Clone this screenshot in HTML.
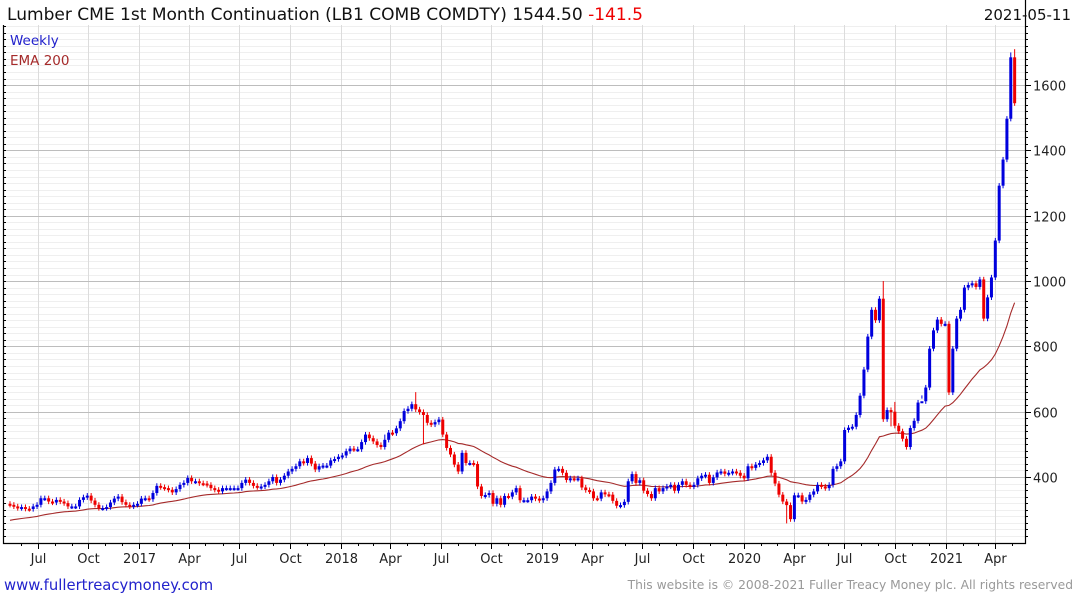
<!DOCTYPE html>
<html><head><meta charset="utf-8">
<style>
html,body{margin:0;padding:0;background:#fff;width:1075px;height:600px;overflow:hidden;font-family:"DejaVu Sans","Liberation Sans",sans-serif;}
svg{position:absolute;left:0;top:0;font-family:"DejaVu Sans","Liberation Sans",sans-serif;}
</style></head>
<body>
<svg id="chart" width="1075" height="600" xmlns="http://www.w3.org/2000/svg">
<text x="7" y="20" font-size="16.8" textLength="636" lengthAdjust="spacingAndGlyphs" fill="#111">Lumber CME 1st Month Continuation (LB1 COMB COMDTY) 1544.50 <tspan fill="#e00">-141.5</tspan></text>
<text x="1071" y="20" font-size="15" fill="#111" text-anchor="end">2021-05-11</text>
<text x="1073" y="589" font-size="12.3" fill="#999" text-anchor="end">This website is © 2008-2021 Fuller Treacy Money plc. All rights reserved</text>
<text x="4" y="590" font-size="14.8" fill="#22c">www.fullertreacymoney.com</text>
</svg>
<script>
const closes=[315,310,305,308,303,302,310,315,335,335,325,322,330,325,320,310,310,310,330,338,343,328,315,305,305,308,322,334,340,323,315,310,315,318,334,335,332,351,373,369,366,361,353,363,376,382,397,387,387,381,380,376,366,361,356,366,366,366,366,366,382,392,382,373,369,371,376,387,400,382,392,404,417,425,433,448,443,458,441,423,433,435,435,451,455,462,466,479,487,485,485,507,530,519,509,498,492,514,536,534,549,571,602,609,623,607,599,590,566,561,568,576,530,489,469,438,417,
474,443,443,440,371,342,345,351,318,335,315,342,340,353,366,329,329,329,340,334,329,335,356,382,423,425,413,391,396,394,396,368,360,356,335,334,353,347,346,327,312,314,324,387,409,382,390,358,348,335,366,356,366,371,376,358,376,387,376,371,376,396,404,407,382,399,414,417,410,413,417,413,404,396,433,428,438,443,451,462,413,380,346,325,314,271,344,344,325,330,346,356,376,371,366,376,425,433,448,544,551,554,590,
649,729,830,912,880,946,577,605,600,557,540,517,492,550,572,628,632,674,793,849,882,869,869,659,793,885,912,980,988,993,982,1005,885,950,1011,1124,1292,1372,1497,1685,1544.5];
const firstOpen=318;
const emaSeed=265;
const emaPeriod=40;
const highSpikes=[[105,660],[226,1000],[259,1700],[260,1710],[97,530],[229,630]];
const lowSpikes=[[201,258],[228,555],[107,500],[236,650]];
const yTicks=[400,600,800,1000,1200,1400,1600];
const xTickLabels=["Jul","Oct","2017","Apr","Jul","Oct","2018","Apr","Jul","Oct","2019","Apr","Jul","Oct","2020","Apr","Jul","Oct","2021","Apr"];
const xTickDates=["2016-07-01","2016-10-01","2017-01-01","2017-04-01","2017-07-01","2017-10-01","2018-01-01","2018-04-01","2018-07-01","2018-10-01","2019-01-01","2019-04-01","2019-07-01","2019-10-01","2020-01-01","2020-04-01","2020-07-01","2020-10-01","2021-01-01","2021-04-01"];
const startDate="2016-05-12";

const NS="http://www.w3.org/2000/svg";
const svg=document.getElementById('chart');
const L=3,R=1025,T=25,B=543;
const vMin=198,vMax=1784;
function y(v){return B-(v-vMin)/(vMax-vMin)*(B-T);}
const t0=Date.parse(startDate);
const pxPerDay=0.552;
function xDate(s){return 10+(Date.parse(s)-t0)/86400000*pxPerDay;}
function xIdx(i){return 10+i*7*pxPerDay;}
function mk(tag,attrs){const e=document.createElementNS(NS,tag);for(const k in attrs)e.setAttribute(k,attrs[k]);return e;}
const g=mk('g',{});
svg.insertBefore(g,svg.firstChild);
for(let v=220;v<vMax;v+=20){if(v%200===0)continue;const yy=Math.round(y(v))+0.5;const l=mk('line',{x1:L,x2:R,y1:yy,y2:yy,stroke:'#efefef','stroke-width':1});


g.appendChild(l);}
xTickDates.forEach((d,i)=>{const xx=Math.round(xDate(d))+0.5;
const l=mk('line',{x1:xx,x2:xx,y1:T,y2:B,stroke:'#dcdcdc','stroke-width':1});


g.appendChild(l);
const tk=mk('line',{x1:xx,x2:xx,y1:B,y2:B+6,stroke:'#000','stroke-width':1});


g.appendChild(tk);
const t=mk('text',{x:xx,y:563,'font-size':13,fill:'#222','text-anchor':'middle'});
t.textContent=xTickLabels[i];


g.appendChild(t);});
for(let m=0;m<64;m++){const d=new Date(Date.UTC(2016,5+m,1));const xx=Math.round(10+(d-t0)/86400000*pxPerDay)+0.5;if(xx>R)break;
const tk=mk('line',{x1:xx,x2:xx,y1:B,y2:B+3,stroke:'#000'});


g.appendChild(tk);}
yTicks.forEach(v=>{const yy=Math.round(y(v))+0.5;
const l=mk('line',{x1:L,x2:R,y1:yy,y2:yy,stroke:'#bdbdbd','stroke-width':1});


g.appendChild(l);
const t=mk('text',{x:1033,y:yy+5,'font-size':13,fill:'#222'});
t.textContent=v;


g.appendChild(t);});
for(let v=220;v<vMax;v+=20){const yy=Math.round(y(v))+0.5;const len=(v%200===0)?6:3;
const a=mk('line',{x1:R,x2:R+len,y1:yy,y2:yy,stroke:'#000'});


g.appendChild(a);
const b=mk('line',{x1:L,x2:L+3,y1:yy,y2:yy,stroke:'#000'});


g.appendChild(b);}
const frame=mk('path',{d:`M${L+0.5} ${T} V${B+0.5} H${R+0.5} V0`,fill:'none',stroke:'#000','stroke-width':1.2});


g.appendChild(frame);
const alpha=2/(emaPeriod+1);let e=emaSeed;let pts=[];
closes.forEach((c,i)=>{e=e+alpha*(c-e);pts.push(xIdx(i).toFixed(1)+','+y(e).toFixed(1));});
const ema=mk('polyline',{points:pts.join(' '),fill:'none',stroke:'#a52a2a','stroke-width':1.1});


g.appendChild(ema);
const hiMap={},loMap={};highSpikes.forEach(p=>hiMap[p[0]]=p[1]);lowSpikes.forEach(p=>loMap[p[0]]=p[1]);
closes.forEach((c,i)=>{const o=i===0?firstOpen:closes[i-1];
const up=c>=o;const col=up?'#0000dd':'#ee0000';
const hi=hiMap[i]!==undefined?hiMap[i]:Math.max(o,c)+8;
const lo=loMap[i]!==undefined?loMap[i]:Math.min(o,c)-8;
const xx=xIdx(i);
const cg=mk('g',{});


cg.appendChild(mk('line',{x1:xx,x2:xx,y1:y(hi),y2:y(lo),stroke:col,'stroke-width':1}));
const top=y(Math.max(o,c)),bot=y(Math.min(o,c));
cg.appendChild(mk('rect',{x:xx-1.5,y:top,width:3,height:Math.max(bot-top,2),fill:col}));
g.appendChild(cg);});
const l1=mk('text',{x:10,y:45,'font-size':13.5,fill:'#22c'});l1.textContent='Weekly';


g.appendChild(l1);
const l2=mk('text',{x:10,y:65,'font-size':13.5,fill:'#a52a2a'});l2.textContent='EMA 200';


g.appendChild(l2);
</script>
</body></html>
